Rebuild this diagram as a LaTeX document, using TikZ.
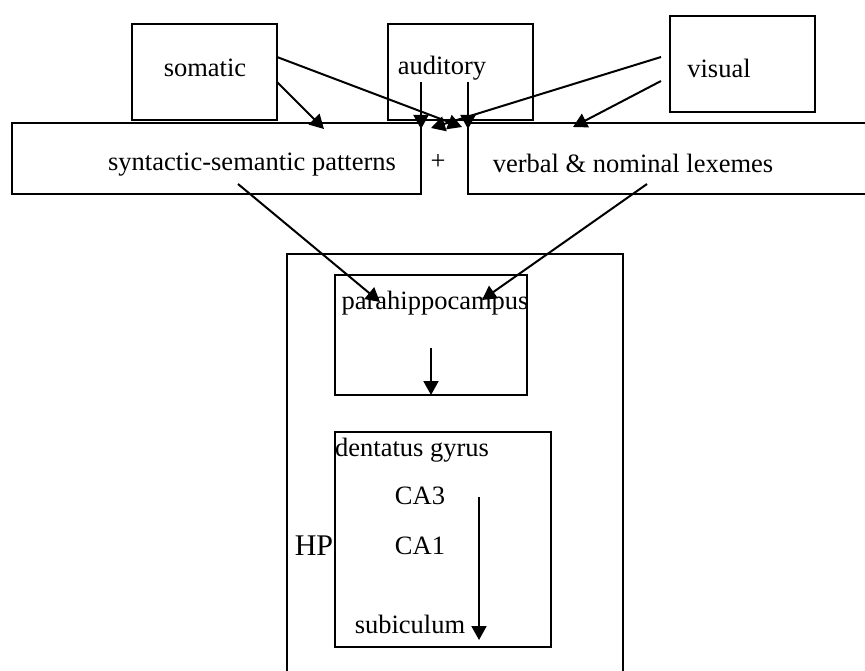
\documentclass[tikz,border=0pt]{standalone}
\usepackage{fontspec}
\setmainfont{Liberation Serif}
\usetikzlibrary{arrows.meta}
\begin{document}
\begin{tikzpicture}[x=1pt,y=-1pt,
  box/.style={draw,line width=2pt,inner sep=0pt,minimum width=#1},
  lbl/.style={inner sep=0pt,font=\fontsize{26.5}{30}\selectfont},
  big/.style={inner sep=0pt,font=\fontsize{30}{34}\selectfont},
  conn/.style={line width=2pt,-{Triangle[length=14pt,width=15pt]}}]
\useasboundingbox (0,0) rectangle (865,671);
\clip (0,0) rectangle (865,671);
% boxes
\draw[line width=2pt] (287,254) rectangle (623,700);
\node[box=145pt,minimum height=96pt] (somaticbox) at (204.5,72) {};
\node[box=145pt,minimum height=96pt] (auditorybox) at (460.5,72) {};
\node[box=145pt,minimum height=96pt] (visualbox) at (742.5,64) {};
\node[box=409pt,minimum height=71pt] (synbox) at (216.5,158.5) {};
\draw[line width=2pt] (890,123) -- (468,123) -- (468,194) -- (890,194);
\coordinate (verbalbox) at (468,158.5);
\node[box=192pt,minimum height=120pt] (parabox) at (431,335) {};
\node[box=216pt,minimum height=215pt] (dentbox) at (443,539.5) {};
% labels
\node[lbl] (somatic) at (205,68) {somatic};
\node[lbl] (auditory) at (442,68) {auditory};
\node[lbl] (visual) at (719,68) {visual};
\node[lbl] (syn) at (252,165) {syntactic-semantic patterns};
\node[lbl] (plus) at (438,162) {+};
\node[lbl] (verbal) at (633,163) {verbal \& nominal lexemes};
\node[lbl] (para) at (435,303) {parahippocampus};
\node[lbl,anchor=west] (dent) at (335,450) {dentatus gyrus};
\node[lbl] (ca3) at (420,496) {CA3};
\node[lbl] (ca1) at (420,546) {CA1};
\node[big] (hp) at (314,546) {HP};
\node[lbl] (sub) at (410,624) {subiculum};
% connector end points
\coordinate (s1) at (277,82);   \coordinate (t1) at (324,129);
\coordinate (s2) at (277,57);   \coordinate (t2) at (462,127);
\coordinate (s3) at (421,82);   \coordinate (t3) at (421,129);
\coordinate (s4) at (468,82);   \coordinate (t4) at (468,129);
\coordinate (s5) at (661,57);   \coordinate (t5) at (431,128);
\coordinate (s6) at (661,81);   \coordinate (t6) at (573,127);
\coordinate (s7) at (238,184);  \coordinate (t7) at (380,302);
\coordinate (s8) at (647,184);  \coordinate (t8) at (482,300);
\coordinate (s9) at (431,348);  \coordinate (t9) at (431,395);
\coordinate (s10) at (479,497); \coordinate (t10) at (479,640);
\foreach \i in {1,...,10} {\draw[conn] (s\i) -- (t\i);}
\end{tikzpicture}
\end{document}
